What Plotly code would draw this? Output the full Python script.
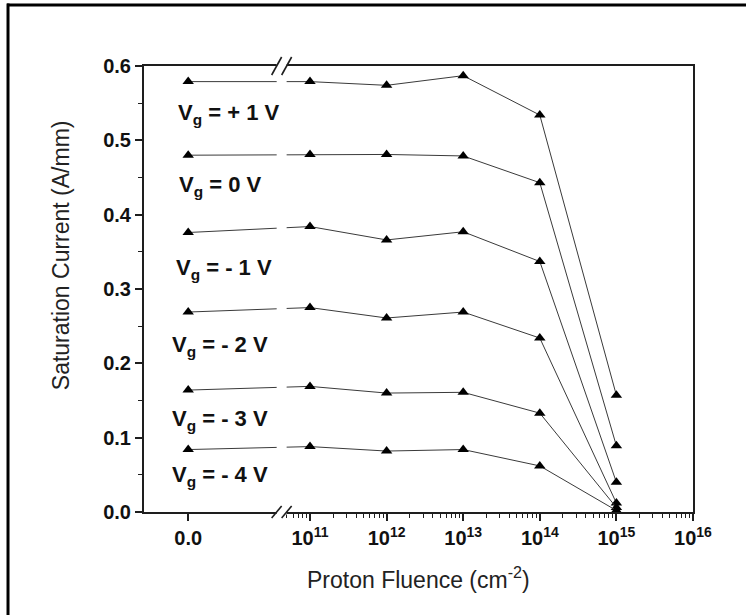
import numpy as np
import plotly.graph_objects as go

# Proton fluence (cm^-2); 0 is the unirradiated reference
fluence = [0, 1e11, 1e12, 1e13, 1e14, 1e15]

# Saturation current (A/mm) for each gate bias
gate_labels = ["+ 1 V", "0 V", "- 1 V", "- 2 V", "- 3 V", "- 4 V"]
isat_p1 = [0.579, 0.579, 0.574, 0.587, 0.534, 0.157]
isat_0 = [0.480, 0.481, 0.481, 0.479, 0.443, 0.089]
isat_m1 = [0.376, 0.384, 0.366, 0.377, 0.337, 0.040]
isat_m2 = [0.269, 0.275, 0.261, 0.269, 0.234, 0.012]
isat_m3 = [0.164, 0.169, 0.160, 0.161, 0.133, 0.006]
isat_m4 = [0.084, 0.088, 0.082, 0.084, 0.062, 0.002]
series = [isat_p1, isat_0, isat_m1, isat_m2, isat_m3, isat_m4]

y_ticks = [0.0, 0.1, 0.2, 0.3, 0.4, 0.5, 0.6]
x_decades = [11, 12, 13, 14, 15, 16]

# Broken axis: the zero point sits left of the break, the rest is log10(fluence)
ZERO_POS = 9.41
BREAK_POS = 10.63
X_RANGE = [8.833, 16.0]


def xpos(f):
    return ZERO_POS if f == 0 else np.log10(f)


xs = [xpos(f) for f in fluence]

FONT = "Arial, Liberation Sans, sans-serif"
AX = "#1e1e1e"

fig = go.Figure()
for vals in series:
    fig.add_trace(go.Scatter(
        x=xs, y=vals, mode="lines+markers",
        line=dict(color="#3a3a3a", width=1),
        marker=dict(symbol="triangle-up", size=10, color="black"),
        showlegend=False, cliponaxis=False,
    ))

minor_vals = [np.log10(k * 10.0 ** n) for n in range(10, 16) for k in range(2, 10)]
minor_vals = [v for v in minor_vals if BREAK_POS + 0.05 < v < X_RANGE[1]]

fig.update_xaxes(
    range=X_RANGE, showgrid=False, zeroline=False,
    showline=True, linecolor=AX, linewidth=2, mirror=True,
    ticks="outside", ticklen=7, tickwidth=1.6, tickcolor=AX,
    tickmode="array", tickvals=[ZERO_POS] + x_decades,
    ticktext=["<b>0.0</b>"] + [f"<b>10<sup>{d}</sup></b>" for d in x_decades],
    tickfont=dict(family=FONT, size=20, color="#111"),
    minor=dict(tickmode="array", tickvals=minor_vals, ticks="outside",
               ticklen=4, tickwidth=1.3, tickcolor=AX),
)
fig.update_yaxes(
    range=[0, 0.6], showgrid=False, zeroline=False,
    showline=True, linecolor=AX, linewidth=2, mirror=True,
    ticks="outside", ticklen=7, tickwidth=1.6, tickcolor=AX,
    tickmode="array", tickvals=y_ticks,
    ticktext=[f"<b>{v:.1f}</b>" for v in y_ticks],
    tickfont=dict(family=FONT, size=20, color="#111"),
    minor=dict(dtick=0.05, ticks="outside", ticklen=4, tickwidth=1.3, tickcolor=AX),
)

shapes = []
# gap in the axes and in the connecting lines at the break
shapes.append(dict(type="rect", xref="x", yref="paper", layer="above",
                   x0=BREAK_POS - 0.065, x1=BREAK_POS + 0.065, y0=-0.006, y1=1.006,
                   fillcolor="white", line=dict(width=0)))
# "//" break marks on top and bottom axes
for yb, h in [(1.0, 9), (0.0, 6)]:
    for off in (-5, 5):
        shapes.append(dict(type="line", xref="x", yref="paper", layer="above",
                           xsizemode="pixel", xanchor=BREAK_POS,
                           ysizemode="pixel", yanchor=yb,
                           x0=off - 5, x1=off + 5, y0=-h, y1=h,
                           line=dict(color=AX, width=1.6)))
# outer frame (top and left edges)
shapes.append(dict(type="line", xref="paper", yref="paper",
                   x0=-0.2495, x1=1.1, y0=1.1368, y1=1.1368,
                   line=dict(color="black", width=3)))
shapes.append(dict(type="line", xref="paper", yref="paper",
                   x0=-0.2477, x1=-0.2477, y0=1.14, y1=-0.24,
                   line=dict(color="black", width=3)))

annotations = []
label_xy = [(9.93, 0.535), (9.838, 0.438), (9.877, 0.327),
            (9.825, 0.223), (9.825, 0.124), (9.825, 0.049)]
for lab, (lx, ly) in zip(gate_labels, label_xy):
    annotations.append(dict(
        x=lx, y=ly, xref="x", yref="y", showarrow=False,
        text=f"<b>V<sub>g</sub> = {lab}</b>",
        font=dict(family=FONT, size=22, color="#111"),
        xanchor="center", yanchor="middle",
    ))
annotations.append(dict(
    x=0.5, y=-0.148, xref="paper", yref="paper", showarrow=False,
    text="Proton Fluence (cm<sup>-2</sup>)", xanchor="center", yanchor="middle",
    font=dict(family=FONT, size=23, color="#222"),
))
annotations.append(dict(
    x=-0.151, y=0.576, xref="paper", yref="paper", showarrow=False,
    text="Saturation Current (A/mm)", textangle=-90,
    xanchor="center", yanchor="middle",
    font=dict(family=FONT, size=23, color="#222"),
))

fig.update_layout(
    width=746, height=615,
    margin=dict(l=144, r=53, t=66, b=103),
    paper_bgcolor="white", plot_bgcolor="white",
    shapes=shapes, annotations=annotations,
)

fig.write_html("out.html")
